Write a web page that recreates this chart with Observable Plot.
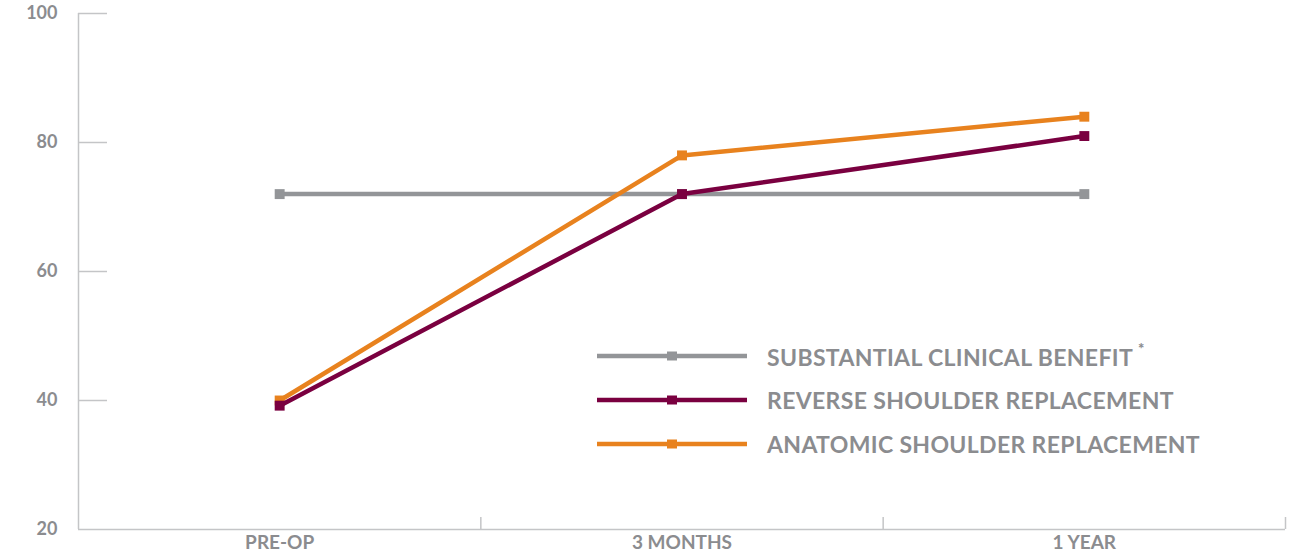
<!DOCTYPE html>
<html>
<head>
<meta charset="utf-8">
<script src="https://cdn.jsdelivr.net/npm/d3@7"></script>
<script src="https://cdn.jsdelivr.net/npm/@observablehq/plot@0.6"></script>
<style>
  html, body { margin: 0; padding: 0; background: #fff; }
  #wrap { position: relative; width: 1306px; height: 557px; font-family: Lato, "Open Sans", sans-serif; }
  #legend { position: absolute; left: 597px; top: 334px; }
  .row { display: flex; align-items: center; height: 44px; }
  .row svg { margin-right: 20px; }
  .row span { font-weight: 700; font-size: 23px; letter-spacing: 0.35px; color: #8b8c8f; white-space: nowrap; }
  sup { font-size: 15px; font-weight: 900; position: relative; top: -3px; margin-left: 5px; }
</style>
</head>
<body>
<div id="wrap"></div>
<script>
const categories = ["PRE-OP", "3 MONTHS", "1 YEAR"];
const seriesNames = ["SUBSTANTIAL CLINICAL BENEFIT", "REVERSE SHOULDER REPLACEMENT", "ANATOMIC SHOULDER REPLACEMENT"];
const benefitValues = [72, 72, 72];
const reverseValues = [39.2, 72, 81];
const anatomicValues = [40, 78, 84];
const yTicks = [20, 40, 60, 80, 100];
const colors = ["#939598", "#7a0040", "#e8821e"];

const series = [benefitValues, anatomicValues, reverseValues];
const seriesColors = [colors[0], colors[2], colors[1]];
const rows = [];
series.forEach((vals, s) => vals.forEach((v, i) => rows.push({s, i, v})));

const W = 1306, H = 557, mL = 78, mR = 21, mT = 13, mB = 28;
const yMin = 20, yMax = 100;
const stepPx = (W - mL - mR) / categories.length;
const pxPerY = (H - mT - mB) / (yMax - yMin);
const tickLen = 29 / stepPx; // y tick length in x units
const boundaries = categories.map((_, i) => i + 0.5);

const marks = [
  Plot.ruleX([-0.5], {y1: yMin, y2: yMax, stroke: "#c4c5c7", strokeWidth: 1.5}),
  Plot.ruleY([yMin], {x1: -0.5, x2: categories.length - 0.5, stroke: "#c4c5c7", strokeWidth: 1.5}),
  Plot.ruleY(yTicks.slice(1), {x1: -0.5, x2: -0.5 + tickLen, stroke: "#c4c5c7", strokeWidth: 1.5}),
  Plot.ruleX(boundaries, {y1: yMin, y2: yMin + 12 / pxPerY, stroke: "#c4c5c7", strokeWidth: 1.5}),
  Plot.axisY({ticks: yTicks, tickSize: 0, tickPadding: 21, fontSize: 18, fontWeight: 700, fill: "#8b8c8f", label: null}),
  Plot.axisX({ticks: categories.map((_, i) => i), tickFormat: i => categories[i], tickSize: 0, tickPadding: 6, fontSize: 19, fontWeight: 700, fill: "#8b8c8f", label: null})
];
series.forEach((vals, s) => {
  const d = rows.filter(r => r.s === s);
  marks.push(Plot.line(d, {x: "i", y: "v", stroke: seriesColors[s], strokeWidth: 4.5}));
  marks.push(Plot.dot(d, {x: "i", y: "v", symbol: "square", r: 5.6, fill: seriesColors[s], stroke: "none"}));
});

const chart = Plot.plot({
  width: W, height: H,
  marginLeft: mL, marginRight: mR, marginTop: mT, marginBottom: mB,
  x: {type: "linear", domain: [-0.5, categories.length - 0.5], axis: null},
  y: {type: "linear", domain: [yMin, yMax], axis: null},
  style: {fontFamily: "Lato, 'Open Sans', sans-serif", background: "#fff", overflow: "visible"},
  marks
});
document.getElementById("wrap").appendChild(chart);

// legend
const legend = document.createElement("div");
legend.id = "legend";
seriesNames.forEach((name, k) => {
  const row = document.createElement("div");
  row.className = "row";
  const svg = d3.create("svg").attr("width", 150).attr("height", 12);
  svg.append("line").attr("x1", 0).attr("x2", 150).attr("y1", 6).attr("y2", 6).attr("stroke", colors[k]).attr("stroke-width", 4.5);
  svg.append("rect").attr("x", 70).attr("y", 1.5).attr("width", 10).attr("height", 9).attr("fill", colors[k]);
  row.appendChild(svg.node());
  const span = document.createElement("span");
  span.textContent = name;
  if (k === 0) { const sup = document.createElement("sup"); sup.textContent = "*"; span.appendChild(sup); }
  row.appendChild(span);
  legend.appendChild(row);
});
document.getElementById("wrap").appendChild(legend);
</script>
</body>
</html>
